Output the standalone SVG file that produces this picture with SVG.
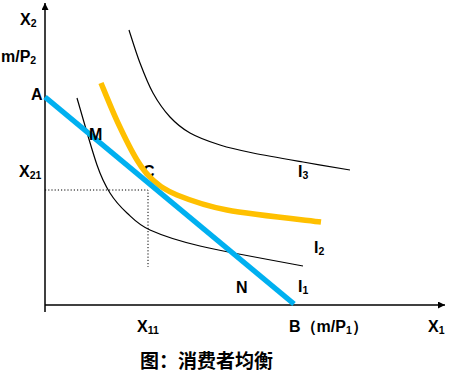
<svg xmlns="http://www.w3.org/2000/svg" width="454" height="373" viewBox="0 0 454 373">
<style>
.lbl{font-family:"Liberation Sans",Arial,sans-serif;font-weight:bold;font-size:16px;fill:#000}
.sub{font-size:10.5px}
.cap{font-family:"Noto Sans CJK SC","Noto Sans",sans-serif;font-size:19px;font-weight:bold;fill:#000}
.axis{stroke:#000;stroke-width:1.5;fill:none}
.ic{stroke:#000;stroke-width:1.2;fill:none}
.dot{stroke:#000;stroke-width:1;stroke-dasharray:1.2,2;fill:none}
</style>
<defs>
<marker id="arr" viewBox="0 0 10 10" refX="10" refY="5" markerWidth="7" markerHeight="7" markerUnits="userSpaceOnUse" orient="auto">
<path d="M0,0 L10,5 L0,10 z" fill="#000"/>
</marker>
</defs>
<rect width="454" height="373" fill="#fff"/>
<g id="labels-behind">
<text class="lbl" x="143" y="177">C</text>
</g>
<g id="axes">
<line class="axis" x1="45" y1="312" x2="45" y2="3" marker-end="url(#arr)"/>
<line class="axis" x1="45" y1="305" x2="445" y2="305" marker-end="url(#arr)"/>
</g>
<g id="connectors">
<path class="dot" d="M45,190 H148 V267"/>
<path id="I3" class="ic" d="M129,30 C130.8,35.5 136,52.5 140,63 C144,73.5 148,84 153,93 C158,102 163.8,110.3 170,117 C176.2,123.7 181.7,128.3 190,133 C198.3,137.7 209.5,141.7 220,145 C230.5,148.3 239.2,150.2 253,153 C266.8,155.8 286.8,159.2 303,162 C319.2,164.8 342.2,168.7 350,170"/>
<path id="I1" class="ic" d="M77,98 C80.3,109.2 91.5,149.2 97,165 C102.5,180.8 105,185 110,193 C115,201 120.3,206.8 127,213 C133.7,219.2 137.8,224.5 150,230 C162.2,235.5 174.5,240 200,246 C225.5,252 285.8,262.7 303,266"/>
<path id="I2" d="M101,83 C103.8,89.7 112,110.2 118,123 C124,135.8 131.2,150.5 137,160 C142.8,169.5 146.3,174.2 153,180 C159.7,185.8 164.7,190 177,195 C189.3,200 203.2,205.5 227,210 C250.8,214.5 304.5,220 321,222" stroke="#FFC000" stroke-width="5.5" fill="none"/>
<line id="budget" x1="45" y1="97" x2="294" y2="304" stroke="#00B0F0" stroke-width="5.5"/>
</g>
<g id="axis-labels">
<text class="lbl" x="20" y="25">X<tspan class="sub" dy="2">2</tspan></text>
<text class="lbl" x="1" y="62">m/P<tspan class="sub" dy="2">2</tspan></text>
<text class="lbl" x="31" y="100">A</text>
<text class="lbl" x="19" y="177">X<tspan class="sub" dy="2">21</tspan></text>
<text class="lbl" x="137" y="332">X<tspan class="sub" dy="2">11</tspan></text>
<text class="lbl" x="289" y="332">B（m/P<tspan class="sub" dy="2">1</tspan><tspan dy="-2">）</tspan></text>
<text class="lbl" x="428" y="332">X<tspan class="sub" dy="2">1</tspan></text>
</g>
<g id="point-labels">
<text class="lbl" x="89" y="140">M</text>
<text class="lbl" x="236" y="293">N</text>
</g>
<g id="curve-labels">
<text class="lbl" x="298" y="177">I<tspan class="sub" dy="2">3</tspan></text>
<text class="lbl" x="314" y="253">I<tspan class="sub" dy="2">2</tspan></text>
<text class="lbl" x="298" y="292">I<tspan class="sub" dy="2">1</tspan></text>
</g>
<g id="caption">
<text class="cap" x="140" y="368">图：消费者均衡</text>
</g>
</svg>
